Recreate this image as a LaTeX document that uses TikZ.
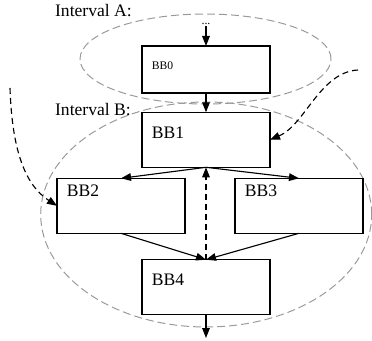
\documentclass[tikz,border=0pt]{standalone}
\usepackage{fontspec}
\setmainfont{Liberation Serif}
\usetikzlibrary{shapes.geometric,arrows.meta,positioning,calc}

\begin{document}
\begin{tikzpicture}[x=0.5mm,y=-0.5mm,
        block/.style={draw,line width=2pt,minimum width=64mm,minimum height=27.5mm,
                      inner sep=0pt,outer sep=0pt},
        region/.style={draw=gray!80,ellipse,line width=1.4pt,dash pattern=on 4mm off 2mm,
                       inner sep=0pt,outer sep=0pt},
        tag/.style={anchor=base west,inner sep=0pt,font=\fontsize{25}{30}\selectfont},
        smalltag/.style={tag,font=\fontsize{16.5}{20}\selectfont},
        edge/.style={line width=1.6pt,-{Triangle[length=5mm,width=3.8mm]}},
        jump/.style={edge,dash pattern=on 3mm off 2mm}
    ]
        \useasboundingbox (0,0) rectangle (372,341);

        % intervals
        \node[region,minimum width=125.5mm,minimum height=45mm] (intA) at (205.5,59) {};
        \node[region,minimum width=165.5mm,minimum height=112.5mm] (intB) at (206.2,214.5) {};
        \node[tag] (labA) at (55,16.7) {Interval A:};
        \node[tag] (labB) at (55,115) {Interval B:};

        % basic blocks
        \node[block,minimum height=23.5mm] (bb0) at (206,69.5) {};
        \node[block] (bb1) at (206,139.8) {};
        \node[block] (bb2) at (121,205.8) {};
        \node[block] (bb3) at (299,205.8) {};
        \node[block] (bb4) at (206,287.2) {};

        \node[smalltag] (t0) at ($(bb0.north west)+(9.7,23.3)$) {BB0};
        \node[tag] (t1) at ($(bb1.north west)+(9.7,26)$) {BB1};
        \node[tag] (t2) at ($(bb2.north west)+(9.7,18.4)$) {BB2};
        \node[tag] (t3) at ($(bb3.north west)+(9.7,18.4)$) {BB3};
        \node[tag] (t4) at ($(bb4.north west)+(9.7,26)$) {BB4};

        % flow
        \node[anchor=south,inner sep=0.7mm,font=\fontsize{17}{20}\selectfont] (dots) at (206,26) {...};
        \coordinate (exit) at (206,338);
        \draw[edge] (dots.south) -- (bb0.north);
        \draw[edge] (bb0.south) -- (bb1.north);
        \draw[edge] (bb1.south) -- (bb2.north);
        \draw[edge] (bb1.south) -- (bb3.north);
        \draw[edge] (bb2.south) -- (bb4.north);
        \draw[edge] (bb3.south) -- (bb4.north);
        \draw[jump] (bb4.north) -- (bb1.south);
        \draw[edge] (bb4.south) -- (exit);

        % jumps from outside
        \coordinate (fromL) at (10,88);
        \coordinate (fromR) at (358,70);
        \draw[jump] (fromL) .. controls (12,150) and (25,185) .. (bb2.west);
        \draw[jump] (fromR) .. controls (320,72) and (305,125) .. (bb1.east);
    \end{tikzpicture}
\end{document}
